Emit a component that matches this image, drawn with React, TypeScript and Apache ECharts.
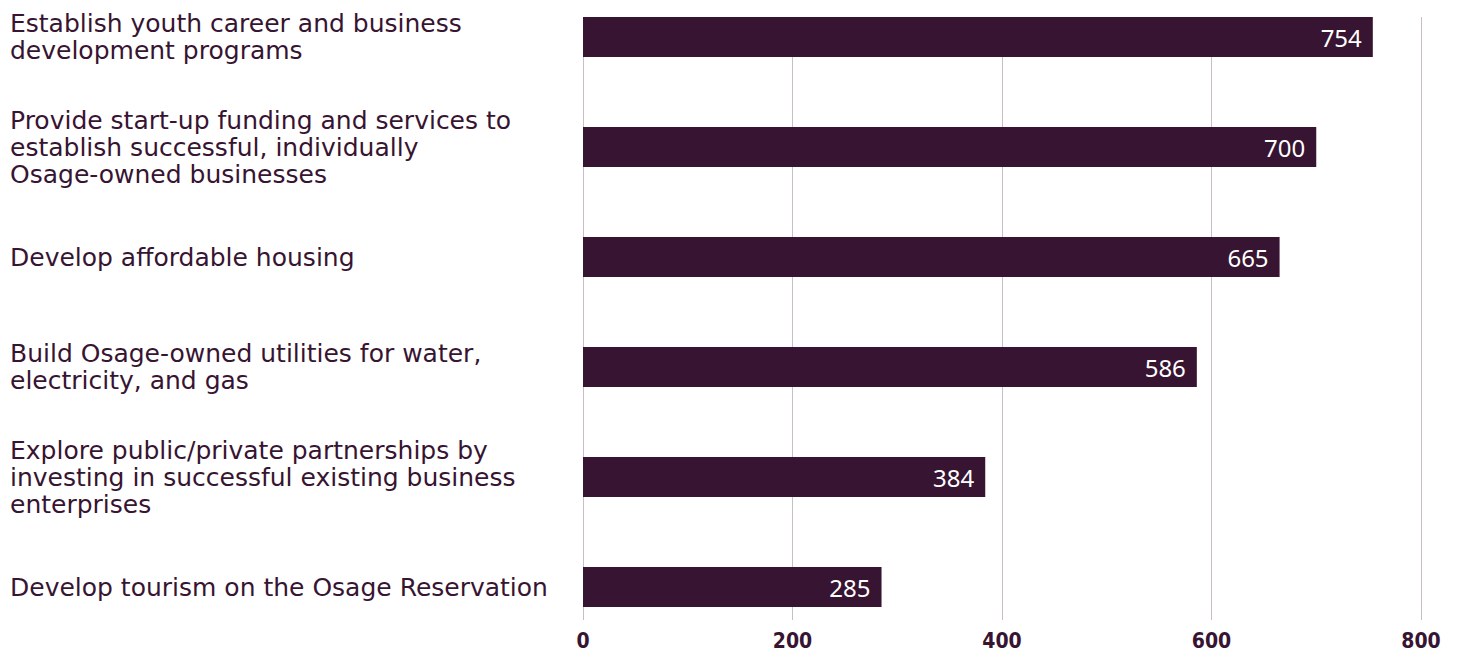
import React, { useEffect, useRef } from "react";
import * as echarts from "echarts";

const categories: string[] = [
  "Establish youth career and business\ndevelopment programs",
  "Provide start-up funding and services to\nestablish successful, individually\nOsage-owned businesses",
  "Develop affordable housing",
  "Build Osage-owned utilities for water,\nelectricity, and gas",
  "Explore public/private partnerships by\ninvesting in successful existing business\nenterprises",
  "Develop tourism on the Osage Reservation",
];
const values: number[] = [754, 700, 665, 586, 384, 285];
const xTicks: number[] = [0, 200, 400, 600, 800];

const BAR = "#371431";
const TEXT = "#371431";
const GRID = "#c9bec6";
const FONT = "'DejaVu Sans', sans-serif";

export default function App() {
  const ref = useRef<HTMLDivElement>(null);
  useEffect(() => {
    document.body.style.margin = "0";
    const chart = echarts.init(ref.current!, null, { renderer: "svg" });
    chart.setOption({
      animation: false,
      backgroundColor: "#ffffff",
      grid: [
        { left: 583, right: 39, top: 17, bottom: 29 },
        { left: 583, right: 39, top: 37, bottom: 64 },
      ],
      xAxis: [
        {
          type: "value",
          gridIndex: 0,
          min: xTicks[0],
          max: xTicks[xTicks.length - 1],
          interval: xTicks[1] - xTicks[0],
          axisLine: { show: false },
          axisTick: { show: false },
          splitLine: { show: true, lineStyle: { color: GRID, width: 1 } },
          axisLabel: {
            margin: 10,
            color: TEXT,
            fontFamily: "'Liberation Sans Narrow', 'DejaVu Sans Condensed', sans-serif",
            fontWeight: "bold",
            fontSize: 21,
          },
        },
        {
          type: "value",
          gridIndex: 1,
          min: xTicks[0],
          max: xTicks[xTicks.length - 1],
          show: false,
        },
      ],
      yAxis: [
        { type: "value", gridIndex: 0, show: false },
        {
          type: "category",
          gridIndex: 1,
          inverse: true,
          boundaryGap: false,
          data: categories,
          axisLine: { show: false },
          axisTick: { show: false },
          splitLine: { show: false },
          axisLabel: {
            align: "left",
            margin: 573,
            color: TEXT,
            fontFamily: FONT,
            fontSize: 25,
            lineHeight: 27,
          },
        },
      ],
      series: [
        {
          type: "bar",
          xAxisIndex: 1,
          yAxisIndex: 1,
          data: values,
          barWidth: 40,
          clip: false,
          itemStyle: { color: BAR },
          label: {
            show: true,
            position: "insideRight",
            distance: 11,
            color: "#ffffff",
            fontFamily: "'Noto Sans', sans-serif",
            fontSize: 24,
          },
        },
      ],
    });
    return () => chart.dispose();
  }, []);
  return <div ref={ref} style={{ width: 1460, height: 651 }} />;
}
